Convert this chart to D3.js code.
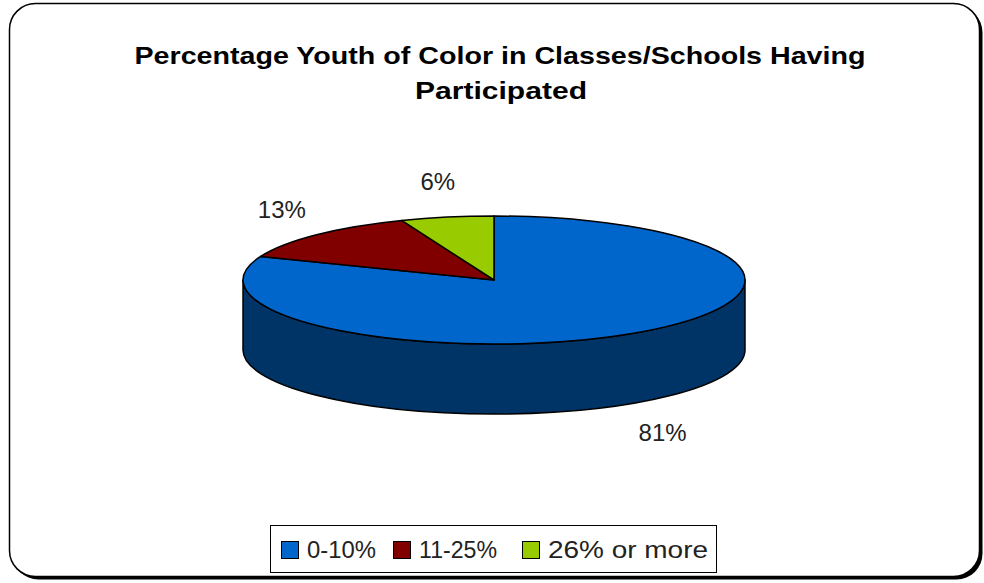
<!DOCTYPE html>
<html>
<head>
<meta charset="utf-8">
<script src="https://cdn.jsdelivr.net/npm/d3@7"></script>
<style>
  html, body { margin: 0; padding: 0; background: #fff; }
  svg { display: block; }
  text { font-family: "Liberation Sans", Arial, sans-serif; }
</style>
</head>
<body>
<svg id="chart" width="984" height="583"></svg>
<script>
const titleLines = ["Percentage Youth of Color in Classes/Schools Having", "Participated"];
const categories = ["0-10%", "11-25%", "26% or more"];
const values = [81, 13, 6];
const labels = ["81%", "13%", "6%"];
const topColors = ["#0066CC", "#800000", "#99CC00"];
const sideColors = ["#003366", "#400000", "#4C6600"];

const W = 984, H = 583;
const svg = d3.select("#chart");

// Frame with shadow
svg.append("rect").attr("x", 12.5).attr("y", 6.5).attr("width", 970).attr("height", 573)
  .attr("rx", 26).attr("fill", "#000");
svg.append("rect").attr("x", 9.5).attr("y", 3.5).attr("width", 970).attr("height", 573)
  .attr("rx", 26).attr("fill", "#fff").attr("stroke", "#000").attr("stroke-width", 1.5);

// Title
const title = svg.append("text").attr("text-anchor", "middle")
  .attr("font-weight", "bold").attr("font-size", 24).attr("fill", "#000");
title.append("tspan").attr("x", 500).attr("y", 64).text(titleLines[0])
  .attr("textLength", 731).attr("lengthAdjust", "spacingAndGlyphs");
title.append("tspan").attr("x", 501).attr("y", 99).text(titleLines[1])
  .attr("textLength", 172).attr("lengthAdjust", "spacingAndGlyphs");

// 3D pie geometry
const cx = 494, cy = 280, rx = 251, ry = 64, depth = 70;
const pie = d3.pie().sort(null).value(d => d).startAngle(0).endAngle(2 * Math.PI);
const arcs = pie(values);

const px = a => cx + rx * Math.sin(a);
const py = a => cy - ry * Math.cos(a);

function topPath(d) {
  const a0 = d.startAngle, a1 = d.endAngle;
  const large = (a1 - a0) > Math.PI ? 1 : 0;
  return `M${cx},${cy} L${px(a0)},${py(a0)} A${rx},${ry} 0 ${large} 1 ${px(a1)},${py(a1)} Z`;
}
function sidePath(d) {
  const a0 = Math.max(d.startAngle, Math.PI / 2);
  const a1 = Math.min(d.endAngle, 3 * Math.PI / 2);
  if (a1 <= a0) return null;
  const large = (a1 - a0) > Math.PI ? 1 : 0;
  return `M${px(a0)},${py(a0)} A${rx},${ry} 0 ${large} 1 ${px(a1)},${py(a1)}` +
         ` L${px(a1)},${py(a1) + depth} A${rx},${ry} 0 ${large} 0 ${px(a0)},${py(a0) + depth} Z`;
}

const g = svg.append("g");
arcs.forEach((d, i) => {
  const p = sidePath(d);
  if (p) g.append("path").attr("d", p).attr("fill", sideColors[i])
    .attr("stroke", "#000").attr("stroke-width", 1.5).attr("stroke-linejoin", "round");
});
arcs.forEach((d, i) => {
  g.append("path").attr("d", topPath(d)).attr("fill", topColors[i])
    .attr("stroke", "#000").attr("stroke-width", 1.5).attr("stroke-linejoin", "round");
});

// Labels
const rxL = 300, ryL = 100;
arcs.forEach((d, i) => {
  const m = (d.startAngle + d.endAngle) / 2;
  const front = Math.cos(m) < 0;
  const x = cx + rxL * Math.sin(m);
  const y = cy - ryL * Math.cos(m) + (front ? depth : 0);
  svg.append("text").attr("x", x).attr("y", y).attr("dy", "0.36em")
    .attr("text-anchor", "middle").attr("font-size", 24).attr("fill", "#222")
    .text(labels[i]);
});

// Legend
const legend = svg.append("g");
legend.append("rect").attr("x", 270.5).attr("y", 525.5).attr("width", 446).attr("height", 47)
  .attr("fill", "#fff").attr("stroke", "#000").attr("stroke-width", 1);
const legX = [281, 393, 522];
const legTextW = [69, 78, 160];
categories.forEach((c, i) => {
  legend.append("rect").attr("x", legX[i] + 0.5).attr("y", 541.5).attr("width", 17).attr("height", 17)
    .attr("fill", topColors[i]).attr("stroke", "#000").attr("stroke-width", 1);
  legend.append("text").attr("x", legX[i] + 26).attr("y", 558).attr("font-size", 24)
    .attr("fill", "#222").attr("textLength", legTextW[i]).attr("lengthAdjust", "spacingAndGlyphs")
    .text(c);
});
</script>
</body>
</html>
